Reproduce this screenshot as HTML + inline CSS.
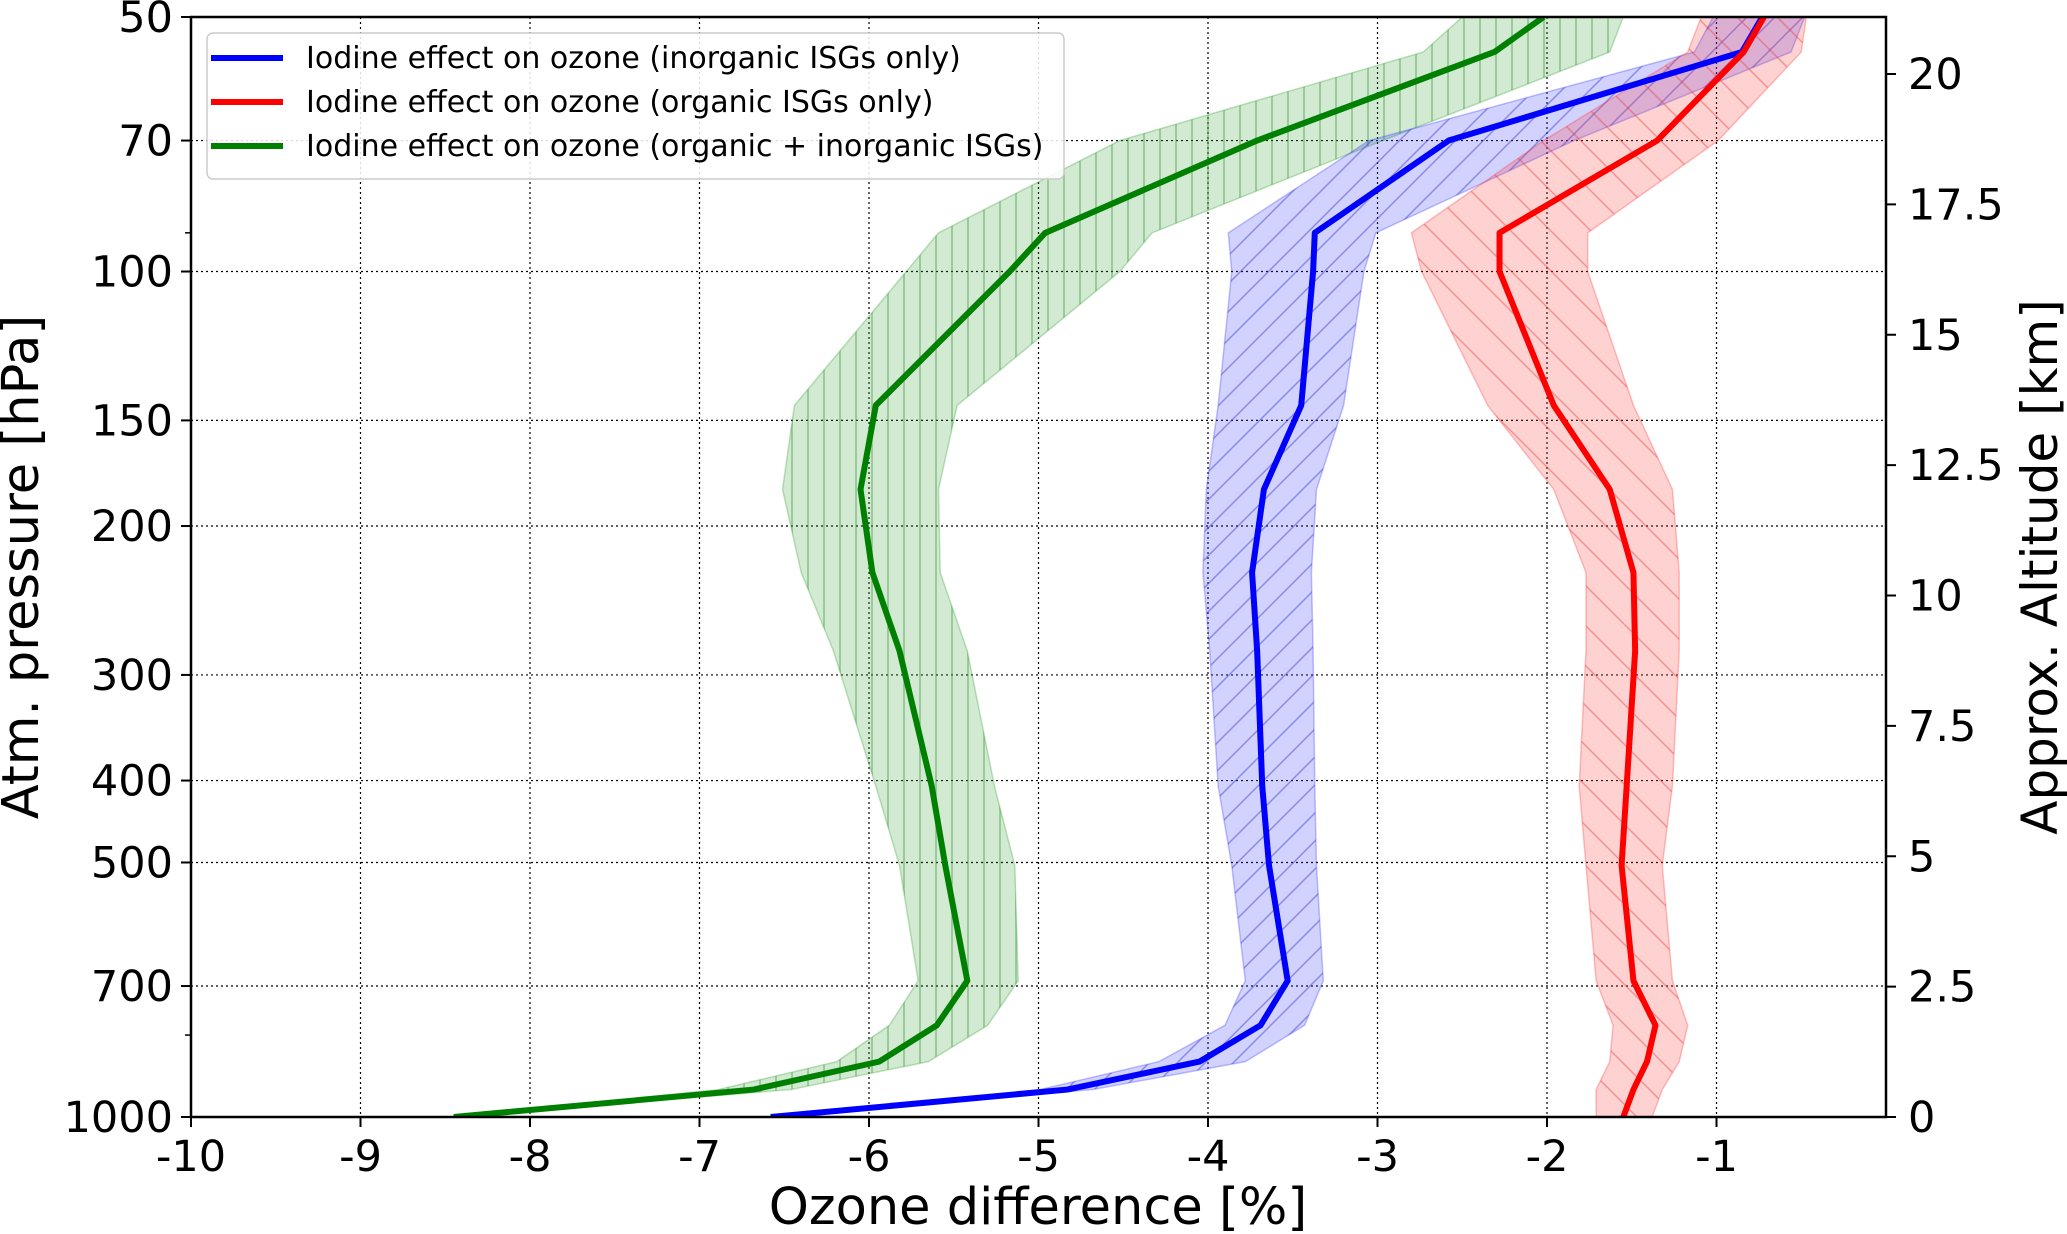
<!DOCTYPE html>
<html><head><meta charset="utf-8"><style>
body{margin:0;background:#fff}
svg{display:block;font-family:"DejaVu Sans","Liberation Sans",sans-serif}
</style></head><body>
<svg id="chart" width="2067" height="1234" viewBox="0 0 2067 1234" xmlns="http://www.w3.org/2000/svg">
<defs>
<pattern id="hg" patternUnits="userSpaceOnUse" width="16" height="16"><line x1="8" y1="0" x2="8" y2="16" stroke="#2e8b2e" stroke-opacity="0.45" stroke-width="1.5"/></pattern>
<pattern id="hb" patternUnits="userSpaceOnUse" width="28" height="28"><path d="M0,28 L28,0 M-7,7 L7,-7 M21,35 L35,21" stroke="#3030d0" stroke-opacity="0.45" stroke-width="1.5"/></pattern>
<pattern id="hr" patternUnits="userSpaceOnUse" width="40" height="40"><path d="M0,0 L40,40 M-10,30 L10,50 M30,-10 L50,10" stroke="#e03030" stroke-opacity="0.4" stroke-width="1.5"/></pattern>
<clipPath id="plotclip"><rect x="191" y="17" width="1695" height="1100"/></clipPath>
</defs>
<g id="grid"></g>
<g id="series" clip-path="url(#plotclip)"></g>
<rect x="191" y="17" width="1695" height="1100" fill="none" stroke="#000" stroke-width="2.5"/>
<g id="axes"></g>
<text x="1038" y="1224" font-size="51" text-anchor="middle">Ozone difference [%]</text>
<text transform="translate(38,567) rotate(-90)" font-size="51" text-anchor="middle">Atm. pressure [hPa]</text>
<text transform="translate(2057,567) rotate(-90)" font-size="50" text-anchor="middle">Approx. Altitude [km]</text>
<g>
<rect x="207" y="33" width="857" height="146" rx="6" fill="#fff" fill-opacity="0.85" stroke="#ccc" stroke-width="1.5"/>
<line x1="211" y1="58" x2="283" y2="58" stroke="#0000ff" stroke-width="6"/>
<text x="306" y="68" font-size="30">Iodine effect on ozone (inorganic ISGs only)</text>
<line x1="211" y1="102" x2="283" y2="102" stroke="#ff0000" stroke-width="6"/>
<text x="306" y="112" font-size="30">Iodine effect on ozone (organic ISGs only)</text>
<line x1="211" y1="146" x2="283" y2="146" stroke="#008000" stroke-width="6"/>
<text x="306" y="156" font-size="30">Iodine effect on ozone (organic + inorganic ISGs)</text>
</g>
</svg>
<script>
const levels=[50,55,70,90,100,144,181,227,281,406,504,690,779,860,928,1000];
const greenMean=[-2.02,-2.31,-3.71,-4.96,-5.17,-5.96,-6.05,-5.98,-5.82,-5.63,-5.55,-5.42,-5.60,-5.94,-6.68,-8.45];
const greenLow=[-2.50,-2.73,-4.52,-5.59,-5.78,-6.44,-6.51,-6.40,-6.21,-5.96,-5.82,-5.71,-5.88,-6.19,-6.89,-8.45];
const greenHigh=[-1.55,-1.63,-2.97,-4.33,-4.52,-5.48,-5.59,-5.58,-5.42,-5.26,-5.14,-5.12,-5.30,-5.65,-6.46,-8.45];
const blueMean=[-0.73,-0.85,-2.58,-3.37,-3.38,-3.45,-3.67,-3.74,-3.71,-3.68,-3.64,-3.53,-3.69,-4.05,-4.83,-6.58];
const blueLow=[-1.02,-1.13,-3.05,-3.88,-3.86,-3.94,-4.01,-4.03,-3.99,-3.94,-3.86,-3.78,-3.90,-4.29,-4.99,-6.58];
const blueHigh=[-0.48,-0.56,-1.84,-3.01,-3.08,-3.20,-3.36,-3.39,-3.38,-3.37,-3.36,-3.32,-3.43,-3.78,-4.68,-6.58];
const redMean=[-0.72,-0.84,-1.35,-2.28,-2.28,-1.96,-1.63,-1.49,-1.48,-1.53,-1.56,-1.49,-1.36,-1.41,-1.49,-1.55];
const redLow=[-1.09,-1.17,-2.02,-2.80,-2.74,-2.35,-1.96,-1.77,-1.77,-1.81,-1.77,-1.71,-1.61,-1.63,-1.71,-1.71];
const redHigh=[-0.47,-0.50,-0.99,-1.76,-1.76,-1.49,-1.26,-1.22,-1.22,-1.26,-1.32,-1.26,-1.17,-1.22,-1.32,-1.38];
const xTicks=[-10,-9,-8,-7,-6,-5,-4,-3,-2,-1];
const pTicks=[50,70,100,150,200,300,400,500,700,1000];
const altTicks=[0,2.5,5,7.5,10,12.5,15,17.5,20];
const altLabels=["0","2.5","5","7.5","10","12.5","15","17.5","20"];

const L=191,R=1886,T=17,B=1117;
const xS=v=>L+(v+10)/10*(R-L);
const yS=p=>T+Math.log10(p/50)/Math.log10(20)*(B-T);
const altS=a=>B-a/20*(B-74);
const NS="http://www.w3.org/2000/svg";
function mk(tag,attrs,parent){const e=document.createElementNS(NS,tag);for(const k in attrs)e.setAttribute(k,attrs[k]);parent.appendChild(e);return e;}
const grid=document.getElementById('grid'),axes=document.getElementById('axes'),ser=document.getElementById('series');

xTicks.forEach((v,i)=>{
  const x=xS(v);
  if(i>0){const g=mk('line',{x1:x,y1:T,x2:x,y2:B,stroke:'#000','stroke-width':1.2,'stroke-dasharray':'2,3'},grid);
  
  }
  const t=mk('line',{x1:x,y1:B,x2:x,y2:B+10,stroke:'#000','stroke-width':2},axes);
  
  
  const l=mk('text',{x:x,y:B+54,'font-size':43,'text-anchor':'middle'},axes);
  l.textContent=String(v);
  
  
});
pTicks.forEach((p,i)=>{
  const y=yS(p);
  if(i>0&&i<pTicks.length-1){const g=mk('line',{x1:L,y1:y,x2:R,y2:y,stroke:'#000','stroke-width':1.2,'stroke-dasharray':'2,3'},grid);
  
  }
  const t=mk('line',{x1:L-10,y1:y,x2:L,y2:y,stroke:'#000','stroke-width':2},axes);
  
  
  const l=mk('text',{x:L-18,y:y+15,'font-size':43,'text-anchor':'end'},axes);
  l.textContent=String(p);
  
  
});
[90,800].forEach(p=>{const y=yS(p);const t=mk('line',{x1:L-6,y1:y,x2:L,y2:y,stroke:'#000','stroke-width':1.5},axes);
  
  });
altTicks.forEach((a,i)=>{
  const y=altS(a);
  const t=mk('line',{x1:R,y1:y,x2:R+10,y2:y,stroke:'#000','stroke-width':2},axes);
  
  
  const l=mk('text',{x:R+22,y:y+15,'font-size':43},axes);
  l.textContent=altLabels[i];
  
  
});

function band(lo,hi,fill,pat,name){
  const pts=lo.map((v,i)=>xS(v)+','+yS(levels[i])).concat(hi.map((v,i)=>xS(v)+','+yS(levels[i])).reverse()).join(' ');
  const a=mk('polygon',{points:pts,fill:fill,'fill-opacity':0.22,stroke:fill,'stroke-opacity':0.3,'stroke-width':1.5},ser);
  
  
  const b=mk('polygon',{points:pts,fill:'url(#'+pat+')'},ser);
  
  
}
function line(vals,col,name){
  const pts=vals.map((v,i)=>xS(v)+','+yS(levels[i])).join(' ');
  const l=mk('polyline',{points:pts,fill:'none',stroke:col,'stroke-width':6,'stroke-linejoin':'round'},ser);
  
  
}
band(greenLow,greenHigh,'#2ca02c','hg','combined');
band(blueLow,blueHigh,'#3333ff','hb','inorganic');
band(redLow,redHigh,'#ff3333','hr','organic');
line(greenMean,'#008000','combined');
line(blueMean,'#0000ff','inorganic');
line(redMean,'#ff0000','organic');
</script>
</body></html>
